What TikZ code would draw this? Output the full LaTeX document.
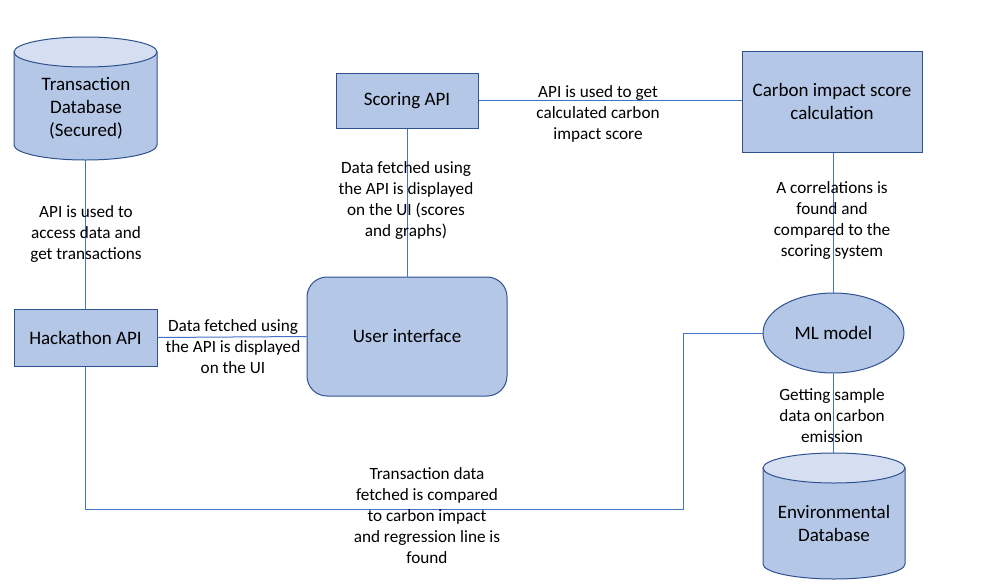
\documentclass[tikz,border=0pt]{standalone}
\usepackage{fontspec}
\setmainfont{Carlito}
\usetikzlibrary{shapes.geometric}
\definecolor{boxfill}{HTML}{B4C7E7}
\definecolor{boxline}{HTML}{2F528F}
\definecolor{topfill}{HTML}{D5DFF1}
\definecolor{wire}{HTML}{4472C4}
\begin{document}
\begin{tikzpicture}[x=1pt,y=-1pt,
  box/.style={draw=boxline,fill=boxfill,line width=1pt,rectangle,inner sep=0pt,
    align=center,font=\fontsize{19}{23}\selectfont},
  dbframe/.style={rectangle,inner sep=0pt,align=center,font=\fontsize{19}{23}\selectfont},
  lbl/.style={align=center,inner sep=0pt,font=\fontsize{17.2}{21}\selectfont},
  wire/.style={draw=wire,line width=1pt}]
\useasboundingbox (0,0) rectangle (983,587);

% cylinder drawing: #1 left x, #2 right x, #3 top y, #4 bottom y, radius ry = 15
\newcommand{\dbcyl}[4]{%
  \pgfmathsetmacro{\cx}{(#1+#2)/2}%
  \pgfmathsetmacro{\rx}{(#2-#1)/2}%
  \filldraw[draw=boxline,fill=boxfill,line width=1pt]
    (#1,#3+15) -- (#1,#4-15) arc[start angle=180,end angle=360,x radius=\rx,y radius=-15]
    -- (#2,#3+15) -- cycle;
  \filldraw[draw=boxline,fill=topfill,line width=1pt]
    (\cx,#3+15) ellipse[x radius=\rx,y radius=15];
}

% databases
\dbcyl{14}{157}{37}{160}
\node[dbframe,minimum width=143pt,minimum height=123pt] (tdb) at (85.5,98.5) {};
\node[dbframe] (tdbtext) at (86,108) {Transaction\\Database\\(Secured)};

\dbcyl{763}{905}{453}{579}
\node[dbframe,minimum width=142pt,minimum height=126pt] (edb) at (834,516) {};
\node[dbframe] (edbtext) at (834,523) {Environmental\\Database};

% boxes
\node[box,minimum width=142pt,minimum height=55pt] (sapi) at (407,100.5) {Scoring API};
\node[box,minimum width=180pt,minimum height=101pt] (carb) at (832,101.5) {Carbon impact score\\calculation};
\node[box,minimum width=143pt,minimum height=57pt] (hapi) at (85.5,337.5) {Hackathon API};
\node[box,rounded corners=20pt,minimum width=200pt,minimum height=119pt] (ui) at (407,336.5) {User interface};
\node[box,ellipse,minimum width=141pt,minimum height=80pt] (ml) at (833.5,333) {ML model};

% connectors
\draw[wire] (tdb.south) -- (hapi.north);
\draw[wire] (hapi.east) -- (ui.west);
\draw[wire] (sapi.south) -- (ui.north);
\draw[wire] (sapi.east) -- (sapi.east -| carb.west);
\draw[wire] (carb.south -| ml.north) -- (ml.north);
\draw[wire] (ml.south) -- (edb.north -| ml.south);
\coordinate (bend) at (683,509);
\draw[wire] (hapi.south) |- (bend) |- (ml.west);

% connector labels
\node[lbl] (l1) at (86,234) {API is used to\\access data and\\get transactions};
\node[lbl] (l2) at (233,347) {Data fetched using\\the API is displayed\\on the UI};
\node[lbl] (l3) at (406,200.5) {Data fetched using\\the API is displayed\\on the UI (scores\\and graphs)};
\node[lbl] (l4) at (598,113.5) {API is used to get\\calculated carbon\\impact score};
\node[lbl] (l5) at (832,221) {A correlations is\\found and\\compared to the\\scoring system};
\node[lbl] (l6) at (832,416) {Getting sample\\data on carbon\\emission};
\node[lbl] (l7) at (427,515.5) {Transaction data\\fetched is compared\\to carbon impact\\and regression line is\\found};
\end{tikzpicture}
\end{document}
